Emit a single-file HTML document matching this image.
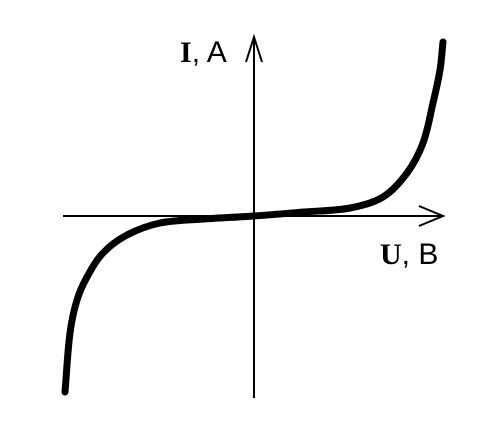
<!DOCTYPE html>
<html><head><meta charset="utf-8"><style>
body{margin:0;background:#fff;width:501px;height:440px;overflow:hidden}
svg{display:block}
</style></head><body>
<svg width="501" height="440">
<g stroke="#000" stroke-width="2" fill="none">
<line x1="63" y1="216" x2="443" y2="216"/>
<polyline points="419,206 443,216 419,226"/>
<line x1="254" y1="398" x2="254" y2="37"/>
<polyline points="246,62 254,37 262,62"/>
</g>
<text x="180" y="62" font-size="30" font-family="Liberation Sans, sans-serif"><tspan font-family="Liberation Serif, serif" font-weight="bold">I</tspan>, A</text>
<text x="380" y="264" font-size="30" font-family="Liberation Sans, sans-serif"><tspan font-family="Liberation Serif, serif" font-weight="bold">U</tspan>, B</text>
<path id="curve" fill="none" stroke="#000" stroke-width="7" stroke-linecap="round" stroke-linejoin="round"/>
</svg>
<script>
const voltage=[-189,-184,-177,-167,-151,-127,-94,-50,0,50,96,129,153,169,179,186,189];
const current=[-176,-117,-84,-61,-37,-19,-7,-3,0,4,8,19,43,73,113,146,174];
const x=u=>254+u, y=i=>216-i;
const p=document.getElementById('curve');


const pts=voltage.map((u,k)=>[x(u),y(current[k])]);
const n=pts.length;
const tan=pts.map((pt,k)=>{
 const a=pts[Math.max(0,k-1)],b=pts[Math.min(n-1,k+1)];
 const dx=b[0]-a[0],dy=b[1]-a[1],L=Math.hypot(dx,dy)||1;
 return [dx/L,dy/L];
});
let d='M'+pts[0][0]+','+pts[0][1];
for(let k=0;k<n-1;k++){
 const p1=pts[k],p2=pts[k+1];
 const s=Math.hypot(p2[0]-p1[0],p2[1]-p1[1])/3;
 const c1=[p1[0]+tan[k][0]*s,p1[1]+tan[k][1]*s];
 const c2=[p2[0]-tan[k+1][0]*s,p2[1]-tan[k+1][1]*s];
 d+=` C${c1[0]},${c1[1]} ${c2[0]},${c2[1]} ${p2[0]},${p2[1]}`;
}
p.setAttribute('d',d);
</script>
</body></html>
